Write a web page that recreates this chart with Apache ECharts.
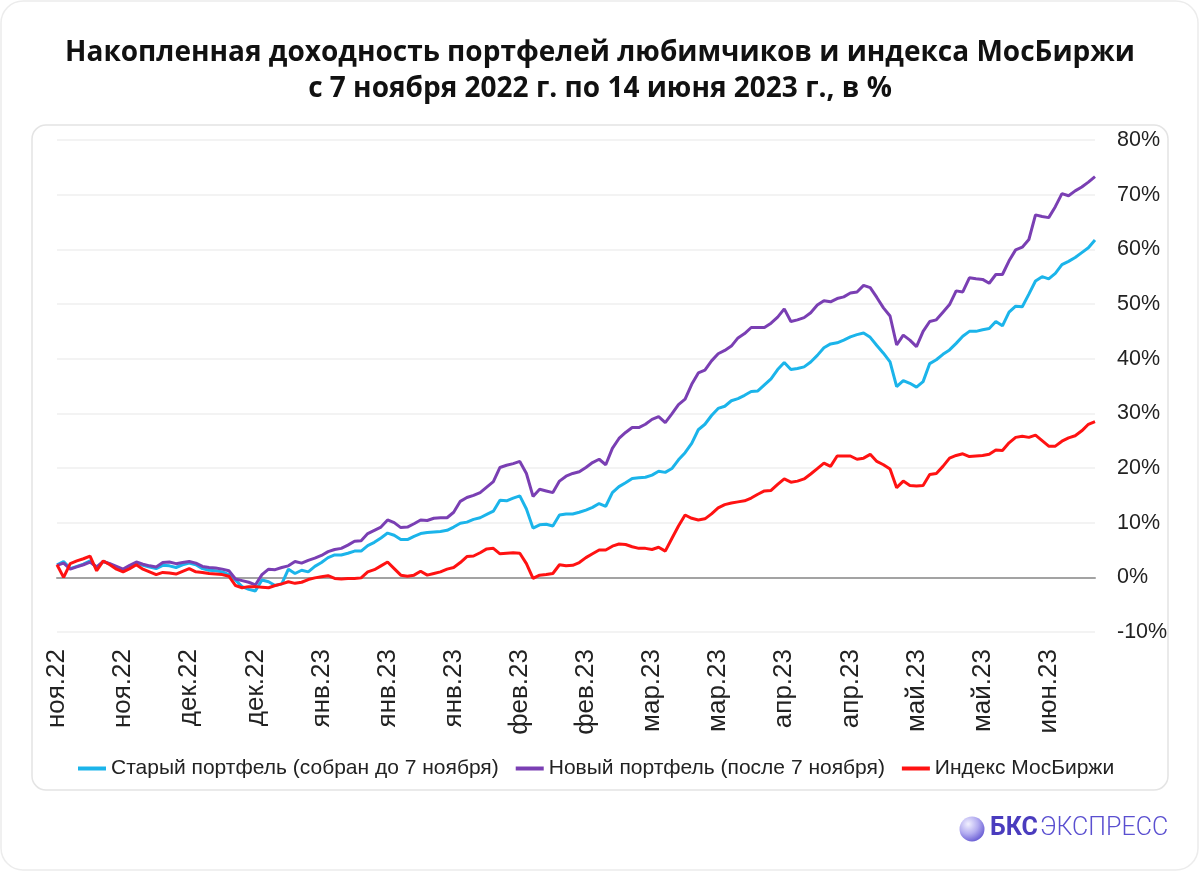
<!DOCTYPE html>
<html><head><meta charset="utf-8">
<script src="https://cdn.jsdelivr.net/npm/echarts@6/dist/echarts.min.js"></script>
<style>html,body{margin:0;padding:0;background:#fff}#c{width:1200px;height:872px}</style>
</head><body><div id="c"></div>
<script>
const titleText = 'Накопленная доходность портфелей любимчиков и индекса МосБиржи\nс 7 ноября 2022 г. по 14 июня 2023 г., в %';
const seriesNames = ['Старый портфель (собран до 7 ноября)', 'Новый портфель (после 7 ноября)', 'Индекс МосБиржи'];
const tickLabels = ['ноя.22','ноя.22','дек.22','дек.22','янв.23','янв.23','янв.23','фев.23','фев.23','мар.23','мар.23','апр.23','апр.23','май.23','май.23','июн.23'];
const yTicks = { min: -10, max: 80, step: 10 };

const oldPortfolio = [
 2.3, 2.9, 1.6, 2.0, 2.4, 3.0, 1.8, 2.9, 2.4, 1.8,
 1.3, 2.0, 2.6, 2.2, 1.9, 1.6, 2.2, 2.1, 1.8, 2.3,
 2.6, 2.3, 1.6, 1.3, 1.2, 1.0, 0.5, -0.5, -1.7, -2.2,
 -2.5, -0.5, -0.8, -1.5, -1.2, 1.5, 0.7, 1.3, 1.0, 2.0,
 2.7, 3.6, 4.1, 4.1, 4.4, 4.8, 4.8, 5.8, 6.4, 7.2,
 8.1, 7.7, 6.9, 6.9, 7.5, 8.0, 8.2, 8.3, 8.4, 8.6,
 9.2, 9.9, 10.1, 10.6, 10.9, 11.5, 12.1, 14.1, 14.0, 14.5,
 14.9, 12.5, 9.0, 9.6, 9.7, 9.4, 11.4, 11.6, 11.6, 11.9,
 12.3, 12.8, 13.5, 13.0, 15.5, 16.6, 17.3, 18.1, 18.2, 18.3,
 18.7, 19.4, 19.2, 19.9, 21.5, 22.8, 24.5, 27.0, 28.0, 29.6,
 30.9, 31.3, 32.3, 32.7, 33.3, 34.0, 34.1, 35.2, 36.3, 38.0,
 39.3, 38.0, 38.2, 38.5, 39.4, 40.6, 42.0, 42.7, 42.9, 43.4,
 44.0, 44.4, 44.7, 43.9, 42.4, 41.0, 39.4, 34.9, 36.0, 35.5,
 34.8, 35.8, 39.1, 39.8, 40.8, 41.6, 42.8, 44.1, 45.0, 45.0,
 45.3, 45.5, 46.8, 46.0, 48.5, 49.6, 49.5, 51.8, 54.2, 55.0,
 54.6, 55.6, 57.2, 57.8, 58.5, 59.4, 60.3, 61.7
];
const newPortfolio = [
 2.2, 2.6, 1.5, 1.9, 2.3, 2.8, 1.9, 2.9, 2.5, 2.0,
 1.5, 2.2, 2.8, 2.4, 2.1, 1.9, 2.7, 2.8, 2.5, 2.7,
 2.9, 2.6, 2.0, 1.8, 1.7, 1.5, 1.2, -0.3, -0.6, -0.9,
 -1.4, 0.5, 1.5, 1.4, 1.8, 2.1, 2.9, 2.6, 3.1, 3.5,
 4.0, 4.7, 5.1, 5.3, 5.9, 6.6, 6.7, 8.0, 8.6, 9.2,
 10.5, 10.0, 9.1, 9.2, 9.8, 10.5, 10.4, 10.8, 10.9, 10.9,
 11.9, 13.9, 14.6, 15.0, 15.5, 16.5, 17.5, 20.1, 20.5, 20.8,
 21.2, 19.0, 14.8, 16.1, 15.8, 15.5, 17.6, 18.5, 19.0, 19.3,
 20.1, 21.0, 21.6, 20.6, 23.6, 25.4, 26.5, 27.4, 27.4, 28.0,
 28.9, 29.4, 28.3, 29.9, 31.6, 32.6, 35.3, 37.4, 37.9, 39.6,
 40.9, 41.5, 42.3, 43.8, 44.6, 45.7, 45.7, 45.7, 46.5, 47.6,
 49.1, 46.8, 47.1, 47.5, 48.4, 49.8, 50.6, 50.4, 51.0, 51.3,
 52.0, 52.2, 53.4, 53.0, 51.2, 49.3, 47.8, 42.5, 44.3, 43.4,
 42.2, 45.0, 46.8, 47.1, 48.5, 49.9, 52.4, 52.2, 54.8, 54.6,
 54.5, 53.8, 55.4, 55.4, 57.9, 59.9, 60.4, 61.8, 66.3, 66.0,
 65.8, 67.8, 70.2, 69.8, 70.7, 71.4, 72.3, 73.3
];
const moexIndex = [
 2.3, 0.0, 2.5, 3.0, 3.4, 3.9, 1.2, 3.0, 2.3, 1.5,
 1.0, 1.6, 2.3, 1.5, 1.0, 0.5, 0.9, 0.8, 0.6, 1.1,
 1.6, 1.0, 0.9, 0.7, 0.6, 0.5, 0.2, -1.5, -1.9, -1.7,
 -1.7, -1.8, -1.9, -1.5, -1.2, -0.8, -1.1, -0.9, -0.4, -0.1,
 0.1, 0.3, -0.2, -0.3, -0.2, -0.2, -0.1, 1.0, 1.4, 2.1,
 2.8, 1.6, 0.4, 0.2, 0.4, 1.1, 0.4, 0.7, 1.0, 1.5,
 1.8, 2.7, 3.8, 3.9, 4.5, 5.2, 5.3, 4.3, 4.4, 4.5,
 4.4, 2.5, -0.2, 0.4, 0.5, 0.7, 2.3, 2.1, 2.2, 2.7,
 3.6, 4.3, 5.0, 5.0, 5.7, 6.1, 6.0, 5.6, 5.3, 5.3,
 5.1, 5.5, 4.8, 7.1, 9.4, 11.4, 10.8, 10.5, 10.7, 11.6,
 12.7, 13.3, 13.6, 13.8, 14.0, 14.5, 15.2, 15.8, 15.9, 17.0,
 18.0, 17.4, 17.6, 18.0, 18.9, 19.9, 20.9, 20.3, 22.2, 22.2,
 22.2, 21.6, 21.8, 22.5, 21.2, 20.6, 19.8, 16.4, 17.6, 16.8,
 16.7, 16.8, 18.8, 19.0, 20.3, 21.8, 22.3, 22.6, 22.1, 22.2,
 22.3, 22.5, 23.3, 23.2, 24.6, 25.6, 25.8, 25.6, 26.0, 25.0,
 24.0, 24.0, 24.9, 25.5, 25.9, 26.8, 28.0, 28.5
];
const categories = oldPortfolio.map((_, i) => i);
const colors = ['#1bb4ea', '#7a3fb3', '#ff1212'];

const chart = echarts.init(document.getElementById('c'), null, { renderer: 'canvas' });
chart.setOption({
  animation: false,
  backgroundColor: '#fff',
  title: {
    text: titleText, left: 'center', top: 30,
    textStyle: { fontFamily: 'Open Sans', fontWeight: 'bold', fontSize: 28, lineHeight: 36, color: '#111' }
  },
  graphic: [
    { type: 'rect', z: -10, shape: { x: 1, y: 1, width: 1197, height: 869, r: 22 }, style: { fill: 'none', stroke: '#ececec', lineWidth: 1.5 } },
    { type: 'rect', z: -9, shape: { x: 32, y: 125, width: 1136, height: 665, r: 14 }, style: { fill: '#fff', stroke: '#e4e4e4', lineWidth: 1.5 } },
    { type: 'circle', shape: { cx: 972, cy: 829, r: 12.5 }, style: { fill: { type: 'radial', x: 0.35, y: 0.3, r: 0.8, colorStops: [{ offset: 0, color: '#f1f0ff' }, { offset: 0.5, color: '#b3acf0' }, { offset: 1, color: '#5b4fcf' }] } } },
    { type: 'text', x: 990, y: 829, style: { text: 'БКС', fontFamily: 'Roboto', fontWeight: 'bold', fontSize: 25, fill: '#4a3cbe', verticalAlign: 'middle' } },
    { type: 'text', x: 1040, y: 829, style: { text: 'ЭКСПРЕСС', fontFamily: 'Roboto', fontWeight: 300, fontSize: 25, fill: '#5a4fd0', verticalAlign: 'middle' } }
  ],
  legend: {
    left: 73, top: 753, itemWidth: 28, itemHeight: 4, itemGap: 17, icon: 'rect',
    textStyle: { fontFamily: 'Liberation Sans', fontSize: 21, color: '#222' },
    data: seriesNames
  },
  grid: { left: 57, right: 105, top: 140, bottom: 240, containLabel: false },
  xAxis: [
    {
      type: 'category', data: categories, boundaryGap: false,
      axisLine: { show: false, onZero: false }, axisTick: { show: false },
      axisLabel: {
        interval: 9, rotate: 90, margin: 17, color: '#222', fontFamily: 'Liberation Sans', fontSize: 26,
        formatter: (v, idx) => tickLabels[Math.round(idx / 10)] || ''
      },
      splitLine: { show: false }
    },
    {
      type: 'category', data: categories, boundaryGap: false, position: 'bottom',
      axisLine: { show: true, onZero: true, lineStyle: { color: '#a3a3a3', width: 2 } },
      axisTick: { show: false }, axisLabel: { show: false }, splitLine: { show: false }
    }
  ],
  yAxis: {
    type: 'value', position: 'right', min: yTicks.min, max: yTicks.max, interval: yTicks.step,
    axisLine: { show: false }, axisTick: { show: false },
    axisLabel: { formatter: '{value}%', margin: 22, color: '#222', fontFamily: 'Liberation Sans', fontSize: 21.5 },
    splitLine: { lineStyle: { color: '#efefef', width: 1.5 } }
  },
  series: [oldPortfolio, newPortfolio, moexIndex].map((d, k) => ({
    name: seriesNames[k], type: 'line', data: d, showSymbol: false, symbol: 'none',
    lineStyle: { color: colors[k], width: 3 }, itemStyle: { color: colors[k] }, z: 3 + k
  }))
});
</script>
</body></html>
